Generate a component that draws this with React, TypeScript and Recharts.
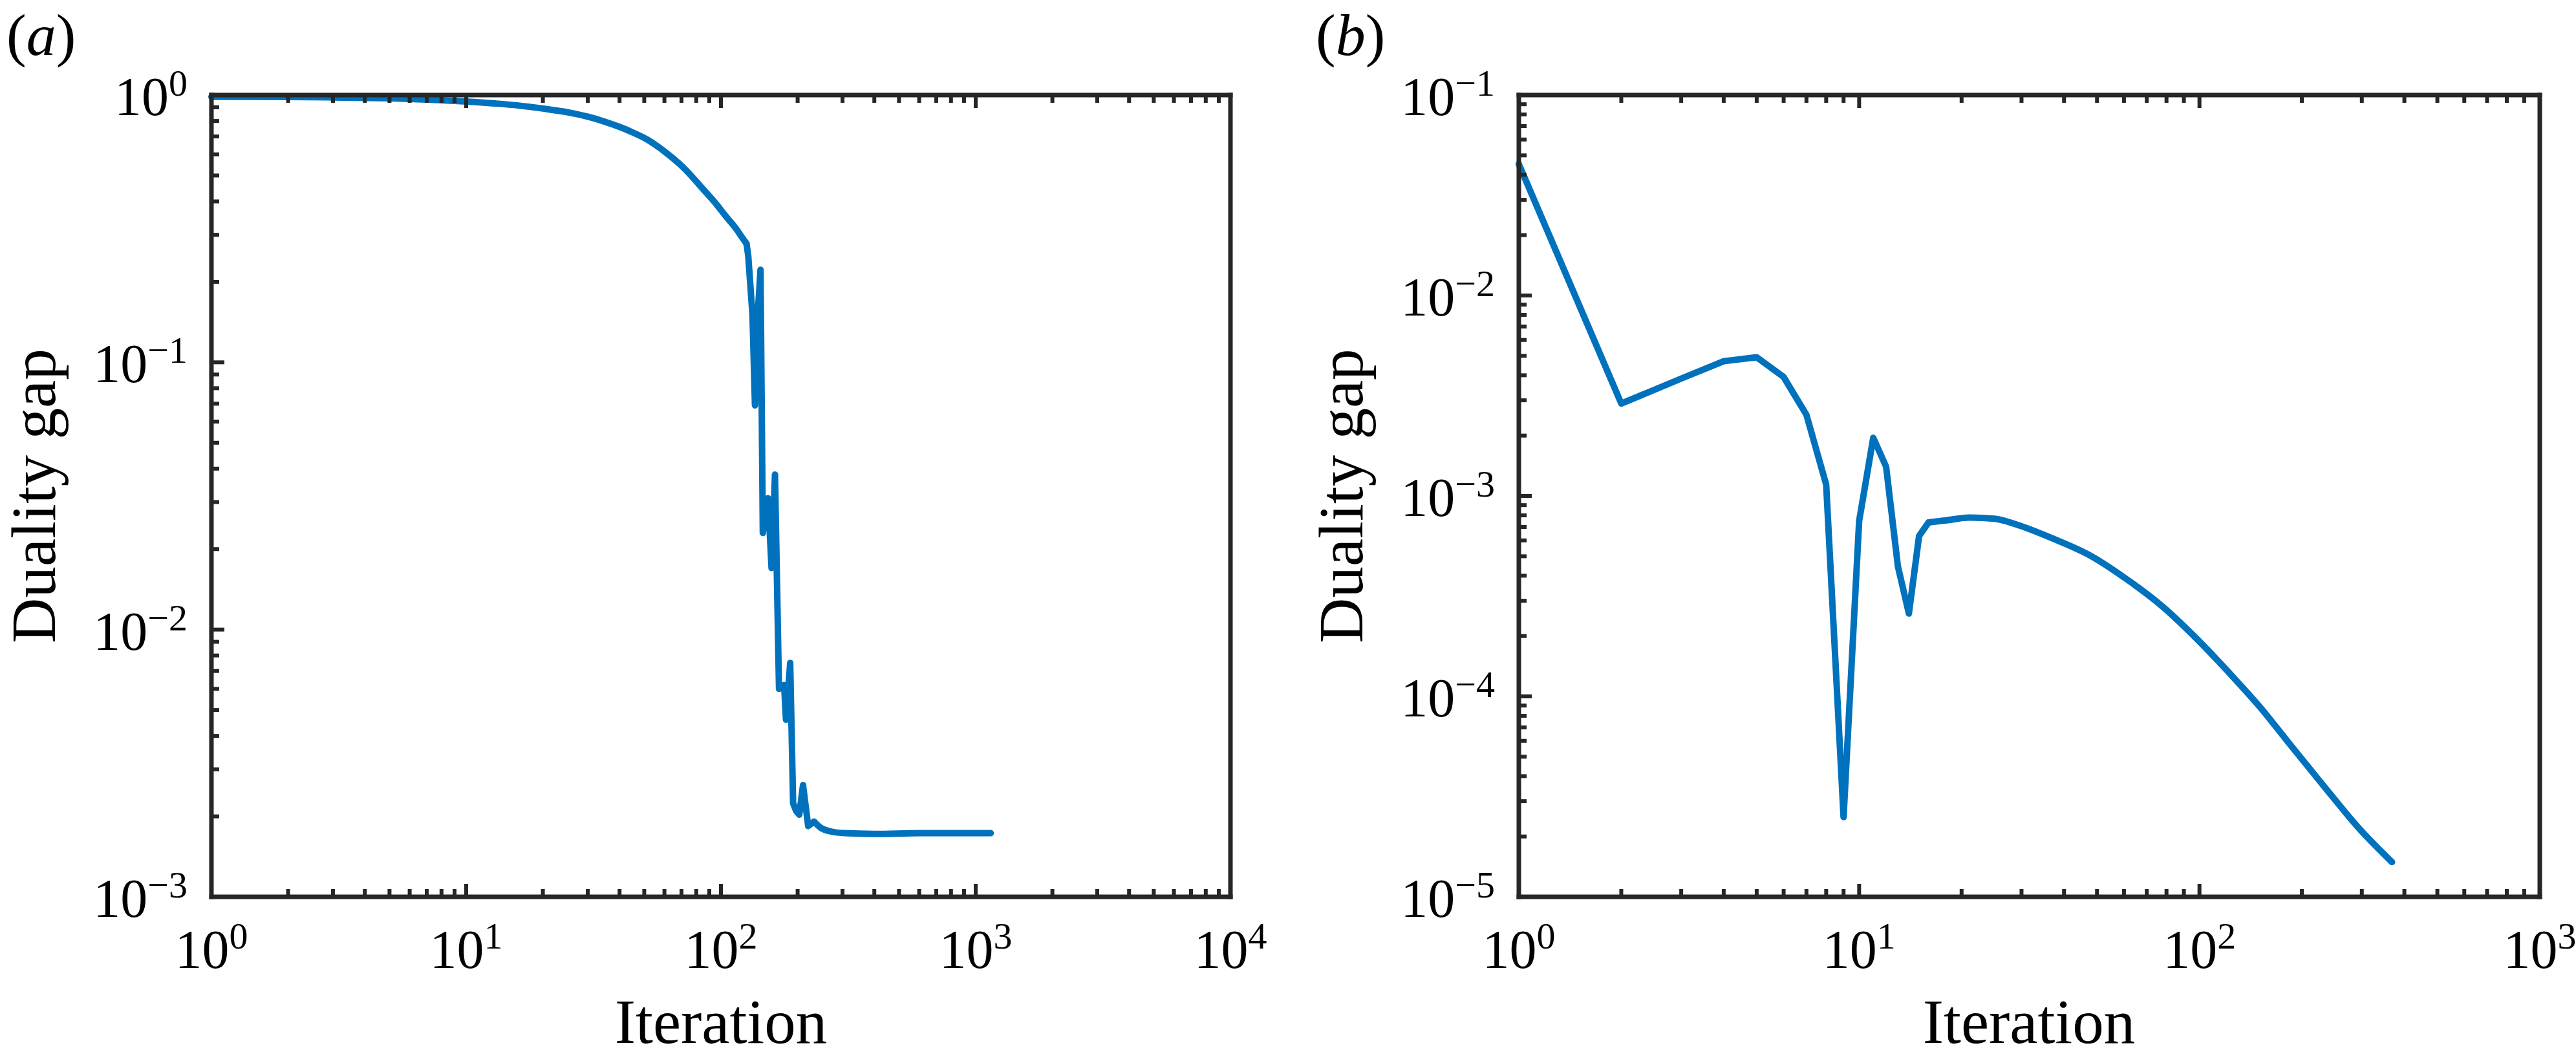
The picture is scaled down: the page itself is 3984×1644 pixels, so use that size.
import React from 'react';
import { LineChart, Line, XAxis, YAxis } from 'recharts';

const FONT = '"Liberation Serif", "Times New Roman", Times, serif';
const AXIS = '#262626';
const BLUE = '#0072BD';

// ---------- Panel (a) data ----------
const iterA = [1, 2, 3, 5, 7, 10, 13, 16, 20, 25, 30, 35, 40, 45, 51, 60, 72, 85, 95, 104, 115, 122, 126, 128, 133, 136, 140, 143, 146, 153, 158, 163, 169, 177, 180, 187, 192, 197, 203, 210, 220, 232, 247, 267, 307, 400, 600, 800, 1000, 1145];
const gapA = [0.985, 0.983, 0.98, 0.972, 0.962, 0.946, 0.93, 0.914, 0.89, 0.862, 0.83, 0.795, 0.76, 0.725, 0.684, 0.615, 0.53, 0.445, 0.395, 0.354, 0.315, 0.29, 0.278, 0.25, 0.15, 0.069, 0.16, 0.222, 0.023, 0.031, 0.017, 0.038, 0.006, 0.0062, 0.0046, 0.0075, 0.00224, 0.0021, 0.00203, 0.00262, 0.00184, 0.00191, 0.00181, 0.00176, 0.00173, 0.00172, 0.00173, 0.00173, 0.00173, 0.00173];
// iterations spanned by the oscillating (piecewise-linear) stretch of panel (a)
const sharpRangeA: [number, number] = [126, 232];

// ---------- Panel (b) data ----------
const iterB = [1, 2, 3, 4, 5, 6, 7, 8, 9, 10, 11, 12, 13, 14, 15, 16, 18, 21, 25, 29, 37, 48, 61, 78, 99, 126, 151, 181, 231, 294, 368];
const gapB = [0.0452, 0.00289, 0.00385, 0.0047, 0.00492, 0.00392, 0.00254, 0.00114, 2.5e-5, 7.5e-4, 0.00195, 0.0014, 0.000445, 0.000259, 0.000631, 0.000738, 0.000755, 0.00078, 0.00077, 0.00072, 0.000614, 0.000502, 0.000385, 0.00028, 0.000191, 0.000124, 8.8e-5, 6.0e-5, 3.6e-5, 2.2e-5, 1.49e-5];
const sharpRangeB: [number, number] = [1, 16];

// ---------- Tick values ----------
const xMajorA = [1, 10, 100, 1000, 10000];
const yMajorA = [0.001, 0.01, 0.1, 1];
const xMajorB = [1, 10, 100, 1000];
const yMajorB = [0.00001, 0.0001, 0.001, 0.01, 0.1];
const minorMultipliers = [2, 3, 4, 5, 6, 7, 8, 9];

const withMinor = (majors: number[]) => {
  const out: number[] = [];
  majors.forEach((m, i) => {
    out.push(m);
    if (i < majors.length - 1) minorMultipliers.forEach((k) => out.push(+(m * k).toPrecision(6)));
  });
  return out;
};

const xTicksA = withMinor(xMajorA);
const yTicksA = withMinor(yMajorA);
const xTicksB = withMinor(xMajorB);
const yTicksB = withMinor(yMajorB);

// rows: 's' = piecewise-linear stretch, 'c' = smooth stretch (shared end points)
const buildRows = (xs: number[], ys: number[], range: [number, number]) =>
  xs.map((x, i) => {
    const inSharp = x >= range[0] && x <= range[1];
    const onEdge = x === range[0] || x === range[1];
    return { x, s: inSharp ? ys[i] : undefined, c: !inSharp || onEdge ? ys[i] : undefined };
  });

const dataA = buildRows(iterA, gapA, sharpRangeA);
const dataB = buildRows(iterB, gapB, sharpRangeB);

const MAJ = 20;
const MIN = 12;
const TW = 6;
const TICK_FS = 84;
const SUP_FS = 58;
const LINE_W = 10;

const isMajor = (v: number) => {
  const l = Math.log10(v);
  return Math.abs(l - Math.round(l)) < 1e-6;
};
const expOf = (v: number) => {
  const e = Math.round(Math.log10(v));
  return e < 0 ? '\u2212' + String(-e) : String(e);
};

type Side = 'bottom' | 'top' | 'left' | 'right';

const makeTick = (side: Side, labeled: boolean) => (props: any) => {
  const { x, y, payload } = props;
  const v = payload.value;
  const major = isMajor(v);
  const len = major ? MAJ : MIN;
  let line;
  if (side === 'bottom') line = <line x1={x} x2={x} y1={y} y2={y - len} stroke={AXIS} strokeWidth={TW} />;
  else if (side === 'top') line = <line x1={x} x2={x} y1={y} y2={y + len} stroke={AXIS} strokeWidth={TW} />;
  else if (side === 'left') line = <line x1={x} x2={x + len} y1={y} y2={y} stroke={AXIS} strokeWidth={TW} />;
  else line = <line x1={x} x2={x - len} y1={y} y2={y} stroke={AXIS} strokeWidth={TW} />;
  let label = null;
  if (labeled && major) {
    if (side === 'bottom') {
      label = (
        <text x={x} y={y + 110} textAnchor="middle" fontFamily={FONT} fontSize={TICK_FS} fill="#000">
          10<tspan dy={-30} fontSize={SUP_FS}>{expOf(v)}</tspan>
        </text>
      );
    } else if (side === 'left') {
      label = (
        <text x={x - 37} y={y + 31} textAnchor="end" fontFamily={FONT} fontSize={TICK_FS} fill="#000">
          10<tspan dy={-30} fontSize={SUP_FS}>{expOf(v)}</tspan>
        </text>
      );
    }
  }
  return (
    <g>
      {line}
      {label}
    </g>
  );
};

const BottomTick = makeTick('bottom', true);
const TopTick = makeTick('top', false);
const LeftTick = makeTick('left', true);
const RightTick = makeTick('right', false);

const axisLineStyle = { stroke: AXIS, strokeWidth: 7, strokeLinecap: 'square' as const };

interface PanelProps {
  data: { x: number; s?: number; c?: number }[];
  width: number;
  leftW: number;
  rightW: number;
  xDomain: [number, number];
  yDomain: [number, number];
  xTicks: number[];
  yTicks: number[];
}

const TOP_H = 147;
const BOTTOM_H = 1644 - 1387;

const Panel = ({ data, width, leftW, rightW, xDomain, yDomain, xTicks, yTicks }: PanelProps) => (
  <LineChart width={width} height={1644} data={data} margin={{ top: 0, right: 0, bottom: 0, left: 0 }}>
    <XAxis
      xAxisId="b"
      dataKey="x"
      type="number"
      scale="log"
      domain={xDomain}
      ticks={xTicks}
      interval={0}
      tickSize={0}
      tickMargin={0}
      tickLine={false}
      tick={BottomTick}
      axisLine={axisLineStyle}
      height={BOTTOM_H}
    />
    <XAxis
      xAxisId="t"
      orientation="top"
      dataKey="x"
      type="number"
      scale="log"
      domain={xDomain}
      ticks={xTicks}
      interval={0}
      tickSize={0}
      tickMargin={0}
      tickLine={false}
      tick={TopTick}
      axisLine={axisLineStyle}
      height={TOP_H}
    />
    <YAxis
      yAxisId="l"
      type="number"
      scale="log"
      domain={yDomain}
      ticks={yTicks}
      interval={0}
      tickSize={0}
      tickMargin={0}
      tickLine={false}
      tick={LeftTick}
      axisLine={axisLineStyle}
      width={leftW}
    />
    <YAxis
      yAxisId="r"
      orientation="right"
      type="number"
      scale="log"
      domain={yDomain}
      ticks={yTicks}
      interval={0}
      tickSize={0}
      tickMargin={0}
      tickLine={false}
      tick={RightTick}
      axisLine={axisLineStyle}
      width={rightW}
    />
    <Line
      xAxisId="b"
      yAxisId="l"
      type="monotoneX"
      dataKey="c"
      stroke={BLUE}
      strokeWidth={LINE_W}
      strokeLinejoin="round"
      strokeLinecap="round"
      dot={false}
      activeDot={false}
      isAnimationActive={false}
    />
    <Line
      xAxisId="b"
      yAxisId="l"
      type="linear"
      dataKey="s"
      stroke={BLUE}
      strokeWidth={LINE_W}
      strokeLinejoin="round"
      strokeLinecap="round"
      dot={false}
      activeDot={false}
      isAnimationActive={false}
    />
  </LineChart>
);

export default function App() {
  return (
    <div style={{ position: 'absolute', left: 0, top: 0, width: 3984, height: 1644, background: '#fff', overflow: 'hidden' }}>
      <div style={{ position: 'absolute', left: 0, top: 0 }}>
        <Panel data={dataA} width={1990} leftW={327} rightW={1990 - 1903} xDomain={[1, 10000]} yDomain={[0.001, 1]} xTicks={xTicksA} yTicks={yTicksA} />
      </div>
      <div style={{ position: 'absolute', left: 1990, top: 0 }}>
        <Panel data={dataB} width={1994} leftW={2349 - 1990} rightW={1994 - (3928 - 1990)} xDomain={[1, 1000]} yDomain={[0.00001, 0.1]} xTicks={xTicksB} yTicks={yTicksB} />
      </div>
      <svg width={3984} height={1644} style={{ position: 'absolute', left: 0, top: 0, pointerEvents: 'none' }}>
        <text x={10} y={85} fontFamily={FONT} fontSize={92} fill="#000">
          (<tspan fontStyle="italic">a</tspan>)
        </text>
        <text x={2035} y={85} fontFamily={FONT} fontSize={92} fill="#000">
          (<tspan fontStyle="italic">b</tspan>)
        </text>
        <text x={85} y={767} transform="rotate(-90 85 767)" textAnchor="middle" fontFamily={FONT} fontSize={97} fill="#000">
          Duality gap
        </text>
        <text x={2107} y={767} transform="rotate(-90 2107 767)" textAnchor="middle" fontFamily={FONT} fontSize={97} fill="#000">
          Duality gap
        </text>
        <text x={1115} y={1613} textAnchor="middle" fontFamily={FONT} fontSize={97} fill="#000">
          Iteration
        </text>
        <text x={3138} y={1613} textAnchor="middle" fontFamily={FONT} fontSize={97} fill="#000">
          Iteration
        </text>
      </svg>
    </div>
  );
}
